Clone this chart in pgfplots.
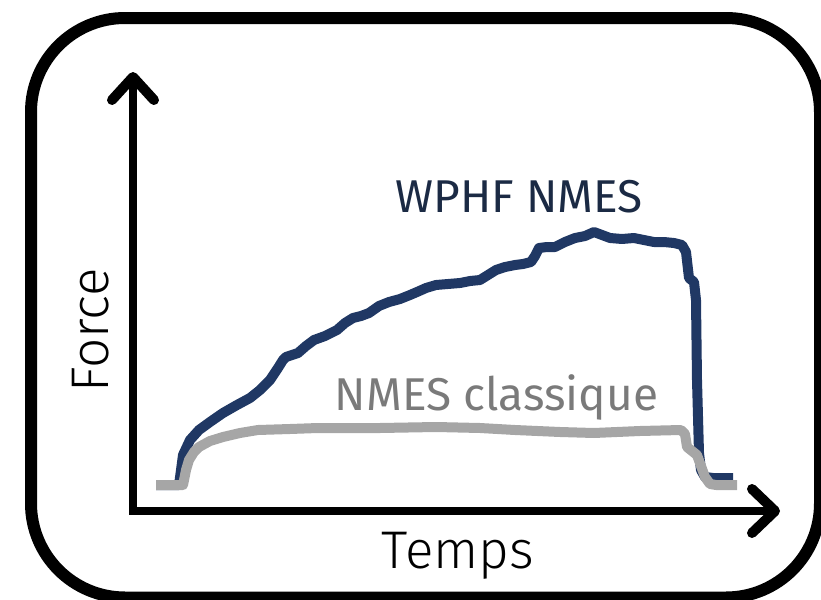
\documentclass[border=0pt]{standalone}
\usepackage{pgfplots}
\pgfplotsset{compat=1.18}
\usepackage{fontspec}
\setmainfont{Fira Sans}
\newfontfamily\lightfont{Fira Sans Light}
\definecolor{navyline}{HTML}{203864}
\definecolor{grayline}{HTML}{A6A6A6}
\definecolor{navytext}{HTML}{1B2A44}
\definecolor{graytext}{HTML}{7A7A7A}
\begin{document}
\begin{tikzpicture}
\begin{axis}[at={(0,0)}, anchor=south west, x=0.5pt, y=0.5pt,
  xmin=0, xmax=821, ymin=0, ymax=600, y dir=reverse,
  hide axis, clip=false]
% frame
\draw[black, line width=6pt, rounded corners=47pt] (31,18) rectangle (820,597.5);
% axes arrows
\draw[black, line width=5pt, line cap=round, line join=round] (112,100) -- (133,77) -- (154,100);
\draw[black, line width=4.4pt, line join=miter] (133,78) -- (133,511) -- (775,511);
\draw[black, line width=5pt, line cap=round, line join=round] (752,489) -- (775,511) -- (752,533);
% WPHF NMES
\addplot[navyline, line width=5pt, line join=round] coordinates {
(156,485) (179,485) (183,455) (190,440) (199,430) (210,422) (223,413) (237,405) (250,398)
(260,390) (266,384) (270,380) (278,368) (283,360) (286,357) (292,355) (298,353) (306,346) (314,340) (325,336) (337,330)
(345,323) (353,318) (361,316) (369,313) (379,306) (389,302) (400,299) (410,295) (417,292)
(426,288) (436,285) (448,284) (460,283) (470,281) (480,280) (488,275) (496,270) (505,267)
(515,265) (523,264) (531,262) (535,256) (539,248) (547,247) (555,247) (565,242) (575,238)
(585,236) (594,232) (602,235) (610,238) (622,239) (634,238) (644,240) (654,242) (664,242)
(674,243) (682,245) (686,252) (689,278) (694,282) (696,300) (697,380) (699,453) (701,470)
(705,477) (713,478) (733,478)
};
% NMES classique
\addplot[grayline, line width=5pt, line join=round] coordinates {
(156,485) (183,485) (186,470) (189,460) (194,452) (199,447) (210,441) (223,437) (240,433)
(258,430) (290,429) (318,428) (380,428) (436,427) (480,428) (515,430) (560,432) (594,433)
(640,431) (681,430) (685,434) (687,447) (692,451) (697,455) (701,466) (705,477) (710,484)
(716,485) (737,485)
};
% texts
\node[anchor=base, text=navytext, font=\fontsize{23}{26}\selectfont] at (519,212) {WPHF NMES};
\node[anchor=base, text=graytext, font=\fontsize{23}{26}\selectfont] at (496.5,410) {NMES classique};
\node[anchor=base, text=black, font=\lightfont\fontsize{26.5}{30}\selectfont] at (458,568) {Temps};
\node[anchor=base, rotate=90, text=black, font=\lightfont\fontsize{26.5}{30}\selectfont] at (108,330) {Force};
\end{axis}
\pgfresetboundingbox
\useasboundingbox (0,0) rectangle (410.5pt,300pt);
\end{tikzpicture}
\end{document}
